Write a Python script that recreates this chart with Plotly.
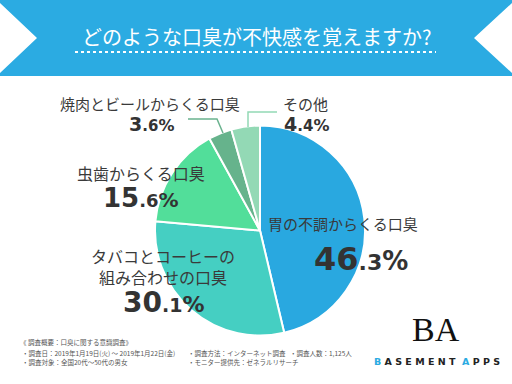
import plotly.graph_objects as go

W, H = 512, 384

# ---- data ----
labels = ["胃の不調からくる口臭", "タバコとコーヒーの<br>組み合わせの口臭", "虫歯からくる口臭",
          "焼肉とビールからくる口臭", "その他"]
values = [46.3, 30.1, 15.6, 3.6, 4.4]
colors = ["#29A8E0", "#45CFC2", "#52DE9A", "#66B38C", "#93D9B5"]
title_text = "どのような口臭が不快感を覚えますか?"
footer_lines = [
    "《 調査概要：口臭に関する意識調査》",
    "・調査日：2019年1月19日(火) 〜 2019年1月22日(金)",
    "・調査対象：全国20代〜50代の男女",
]
footer_mid = ["・調査方法：インターネット調査", "・モニター提供先：ゼネラルリサーチ"]
footer_right = "・調査人数：1,125人"

FONT = "Noto Sans CJK JP"
NUMFONT = "DejaVu Sans"
TXT = "#3a3a3a"


def px(x):
    return x / W


def py(y):
    return 1 - y / H


def pct(v, big, small, pctsize):
    s = f"{v:.1f}"
    i, d = s.split(".")
    return (f"<b><span style='font-size:{big}px'>{i}</span>"
            f"<span style='font-size:{small}px'>.{d}</span>"
            f"<span style='font-size:{pctsize}px'>%</span></b>")


fig = go.Figure()
fig.add_trace(go.Pie(
    labels=labels, values=values, sort=False, direction="clockwise", rotation=0,
    marker=dict(colors=colors, line=dict(color="white", width=2)),
    textinfo="none", hoverinfo="label+percent", showlegend=False,
    domain=dict(x=[px(155), px(365)], y=[py(335.5), py(125.5)]),
))

shapes = []


def path(points, close=True):
    s = "M " + " L ".join(f"{px(x)},{py(y)}" for x, y in points)
    return s + (" Z" if close else "")


# banner
shapes.append(dict(type="path", xref="paper", yref="paper", layer="below",
                   path=path([(0, 0), (512, 0), (512, 3), (474, 38), (512, 73), (512, 76),
                              (0, 76), (0, 73), (37, 38), (0, 3)]),
                   fillcolor="#2BABE2", line=dict(width=0)))
shapes.append(dict(type="line", xref="paper", yref="paper",
                   x0=px(75), x1=px(436), y0=py(52), y1=py(52),
                   line=dict(color="white", width=2, dash="dot")))
# leader lines
shapes.append(dict(type="path", xref="paper", yref="paper",
                   path=path([(188, 119), (217, 119), (223, 133)], close=False),
                   line=dict(color="#6AB28E", width=1.5)))
shapes.append(dict(type="path", xref="paper", yref="paper",
                   path=path([(277, 112), (248, 112), (248, 127)], close=False),
                   line=dict(color="#93D9B5", width=1.5)))

ann = []


def text(x, y, t, size, color=TXT, anchor="left", family=FONT):
    ann.append(dict(x=px(x), y=py(y), xref="paper", yref="paper", text=t, showarrow=False,
                    xanchor=anchor, yanchor="middle", font=dict(size=size, color=color, family=family)))


text(256, 36, title_text, 20, color="white", anchor="center")

# slice labels
text(266, 223, labels[0], 15)
text(361, 259, pct(values[0], 32, 22, 26), 32, color="#333", anchor="center", family=NUMFONT)
text(163, 266, labels[1], 16, anchor="center")
text(163, 302, pct(values[1], 28, 19, 22), 28, color="#333", anchor="center", family=NUMFONT)
text(141, 173, labels[2], 16, anchor="center")
text(141, 198, pct(values[2], 26, 18, 20), 26, color="#333", anchor="center", family=NUMFONT)
text(150, 103, labels[3], 15, anchor="center")
text(151, 124, pct(values[3], 19, 15, 16), 19, color="#333", anchor="center", family=NUMFONT)
text(305, 103, labels[4], 15, anchor="center")
text(306, 124, pct(values[4], 19, 15, 16), 19, color="#333", anchor="center", family=NUMFONT)

# footer
FS = 6.5
text(18, 342, footer_lines[0], FS, color="#555")
text(20, 353, footer_lines[1], FS, color="#555")
text(20, 362, footer_lines[2], FS, color="#555")
text(186, 353, footer_mid[0], FS, color="#555")
text(186, 362, footer_mid[1], FS, color="#555")
text(288, 353, footer_right, FS, color="#555")

# logo
text(436, 329, "BA", 34, color="#111", anchor="center", family="Liberation Serif")
text(437, 361, "<b><span style='color:#2BABE2'>B</span> A S E M E N T  <span style='color:#2BABE2'>A</span> P P S</b>",
     9.5, color="#222", anchor="center", family="DejaVu Sans")

fig.update_layout(width=W, height=H, margin=dict(l=0, r=0, t=0, b=0),
                  paper_bgcolor="white", plot_bgcolor="white",
                  shapes=shapes, annotations=ann)
fig.write_html("out.html", config=dict(displayModeBar=False),
               post_script="document.body.style.margin='0px';")
